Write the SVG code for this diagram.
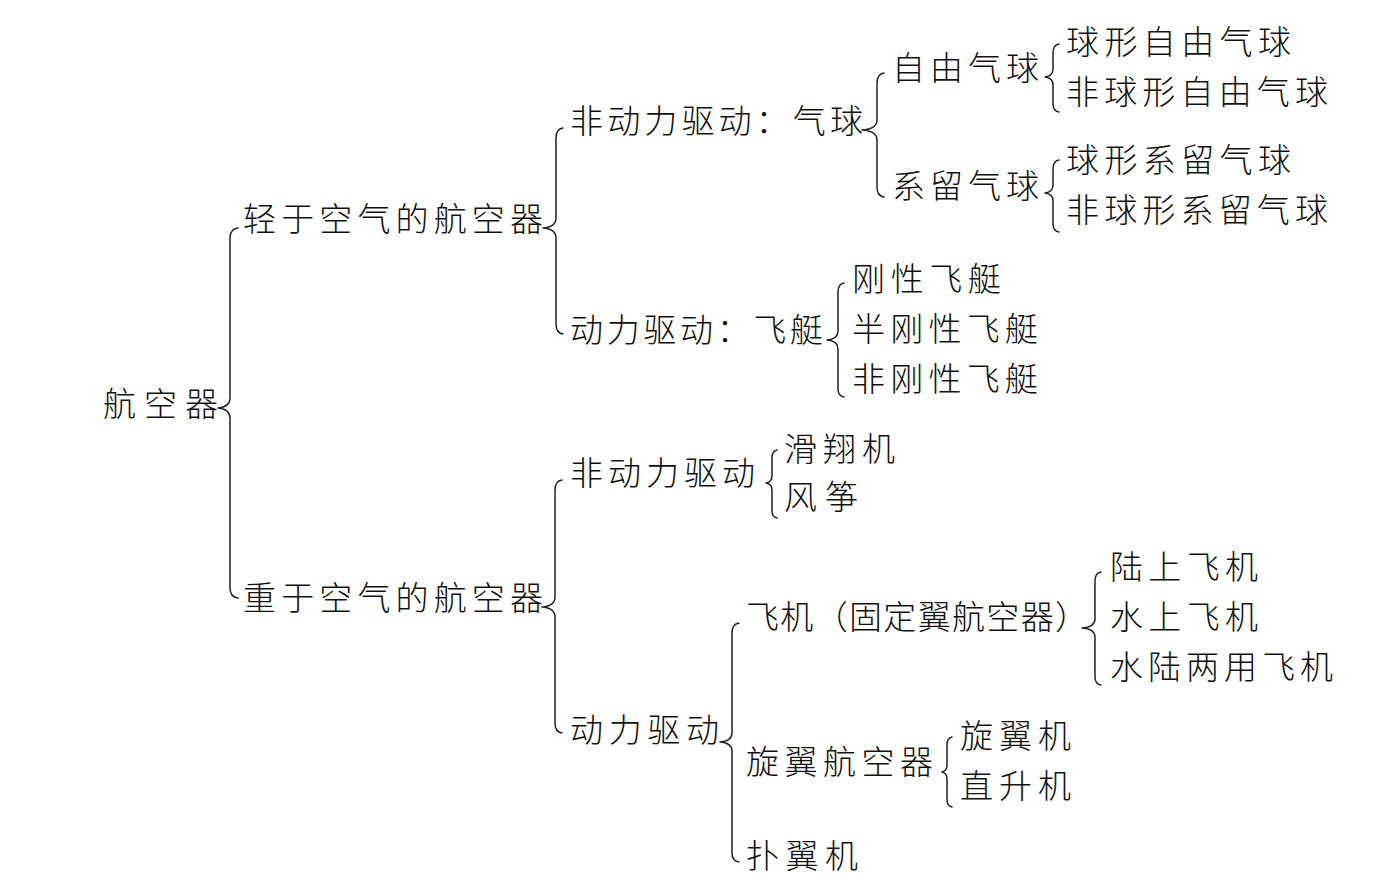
<svg xmlns="http://www.w3.org/2000/svg" width="1399" height="894" viewBox="0 0 1399 894">
<style>
text{font-family:"Noto Sans CJK SC","Noto Sans CJK JP",sans-serif;font-size:33px;font-weight:300;fill:#111;}
.b{fill:none;stroke:#222;stroke-width:1.5;stroke-linecap:round;stroke-linejoin:round;}
</style>
<rect width="1399" height="894" fill="#fff"/>
<g id="connectors">
<path class="b" d="M238,228 Q230,229 230,238 L230,398 Q230,407 218,408 Q230,409 230,418 L230,588 Q230,597 238,598"/>
<path class="b" d="M563,128 Q556,129 556,138 L556,218 Q556,227 543,228 Q556,229 556,238 L556,324 Q556,333 563,334"/>
<path class="b" d="M562,480 Q555,481 555,490 L555,597 Q555,606 542,607 Q555,608 555,617 L555,723 Q555,732 562,733"/>
<path class="b" d="M884,73 Q877,74 877,83 L877,120 Q877,129 862,130 Q877,131 877,140 L877,187 Q877,196 884,197"/>
<path class="b" d="M1059,44 Q1053,45 1053,53 L1053,69 Q1053,76 1045,77 Q1053,78 1053,85 L1053,104 Q1053,111 1059,112"/>
<path class="b" d="M1059,160 Q1053,161 1053,169 L1053,185 Q1053,192 1045,193 Q1053,194 1053,201 L1053,224 Q1053,231 1059,232"/>
<path class="b" d="M844,283 Q838,284 838,292 L838,331 Q838,339 827,340 Q838,341 838,349 L838,389 Q838,396 844,397"/>
<path class="b" d="M777,450 Q772,451 772,458 L772,476 Q772,482 766,483 Q772,484 772,490 L772,511 Q772,517 777,518"/>
<path class="b" d="M739,623 Q732,624 732,633 L732,733 Q732,741 720,742 Q732,743 732,751 L732,853 Q732,861 739,862"/>
<path class="b" d="M1101,572 Q1095,573 1095,581 L1095,619 Q1095,627 1082,628 Q1095,629 1095,637 L1095,677 Q1095,684 1101,685"/>
<path class="b" d="M952,737 Q947,738 947,745 L947,765 Q947,771 942,772 Q947,773 947,779 L947,800 Q947,806 952,807"/>
</g>
<g id="n-root"><text x="103" y="416" textLength="115" lengthAdjust="spacing">航空器</text></g>
<g id="n-light"><text x="243" y="231" textLength="300" lengthAdjust="spacing">轻于空气的航空器</text></g>
<g id="n-heavy"><text x="243" y="610" textLength="300" lengthAdjust="spacing">重于空气的航空器</text></g>
<g id="n-balloon"><text x="570" y="133" textLength="293" lengthAdjust="spacing">非动力驱动：气球</text></g>
<g id="n-airship"><text x="570" y="342" textLength="253" lengthAdjust="spacing">动力驱动：飞艇</text></g>
<g id="n-free"><text x="892" y="80" textLength="147" lengthAdjust="spacing">自由气球</text></g>
<g id="n-tethered"><text x="892" y="198" textLength="147" lengthAdjust="spacing">系留气球</text></g>
<g id="n-free1"><text x="1066" y="54" textLength="225" lengthAdjust="spacing">球形自由气球</text></g>
<g id="n-free2"><text x="1066" y="104" textLength="262" lengthAdjust="spacing">非球形自由气球</text></g>
<g id="n-teth1"><text x="1066" y="172" textLength="225" lengthAdjust="spacing">球形系留气球</text></g>
<g id="n-teth2"><text x="1066" y="222" textLength="262" lengthAdjust="spacing">非球形系留气球</text></g>
<g id="n-rigid"><text x="852" y="291" textLength="149" lengthAdjust="spacing">刚性飞艇</text></g>
<g id="n-semi"><text x="852" y="341" textLength="186" lengthAdjust="spacing">半刚性飞艇</text></g>
<g id="n-nonrigid"><text x="852" y="391" textLength="186" lengthAdjust="spacing">非刚性飞艇</text></g>
<g id="n-unpowered"><text x="570" y="485" textLength="185" lengthAdjust="spacing">非动力驱动</text></g>
<g id="n-glider"><text x="784" y="461" textLength="111" lengthAdjust="spacing">滑翔机</text></g>
<g id="n-kite"><text x="784" y="509" textLength="74" lengthAdjust="spacing">风筝</text></g>
<g id="n-powered"><text x="570" y="742" textLength="149" lengthAdjust="spacing">动力驱动</text></g>
<g id="n-plane"><text x="746" y="629" textLength="342" lengthAdjust="spacing">飞机（固定翼航空器）</text></g>
<g id="n-land"><text x="1110" y="579" textLength="148" lengthAdjust="spacing">陆上飞机</text></g>
<g id="n-sea"><text x="1110" y="629" textLength="148" lengthAdjust="spacing">水上飞机</text></g>
<g id="n-amph"><text x="1110" y="679" textLength="223" lengthAdjust="spacing">水陆两用飞机</text></g>
<g id="n-rotor"><text x="746" y="774" textLength="187" lengthAdjust="spacing">旋翼航空器</text></g>
<g id="n-gyro"><text x="960" y="748" textLength="111" lengthAdjust="spacing">旋翼机</text></g>
<g id="n-heli"><text x="960" y="798" textLength="111" lengthAdjust="spacing">直升机</text></g>
<g id="n-ornith"><text x="746" y="868" textLength="112" lengthAdjust="spacing">扑翼机</text></g>
</svg>
